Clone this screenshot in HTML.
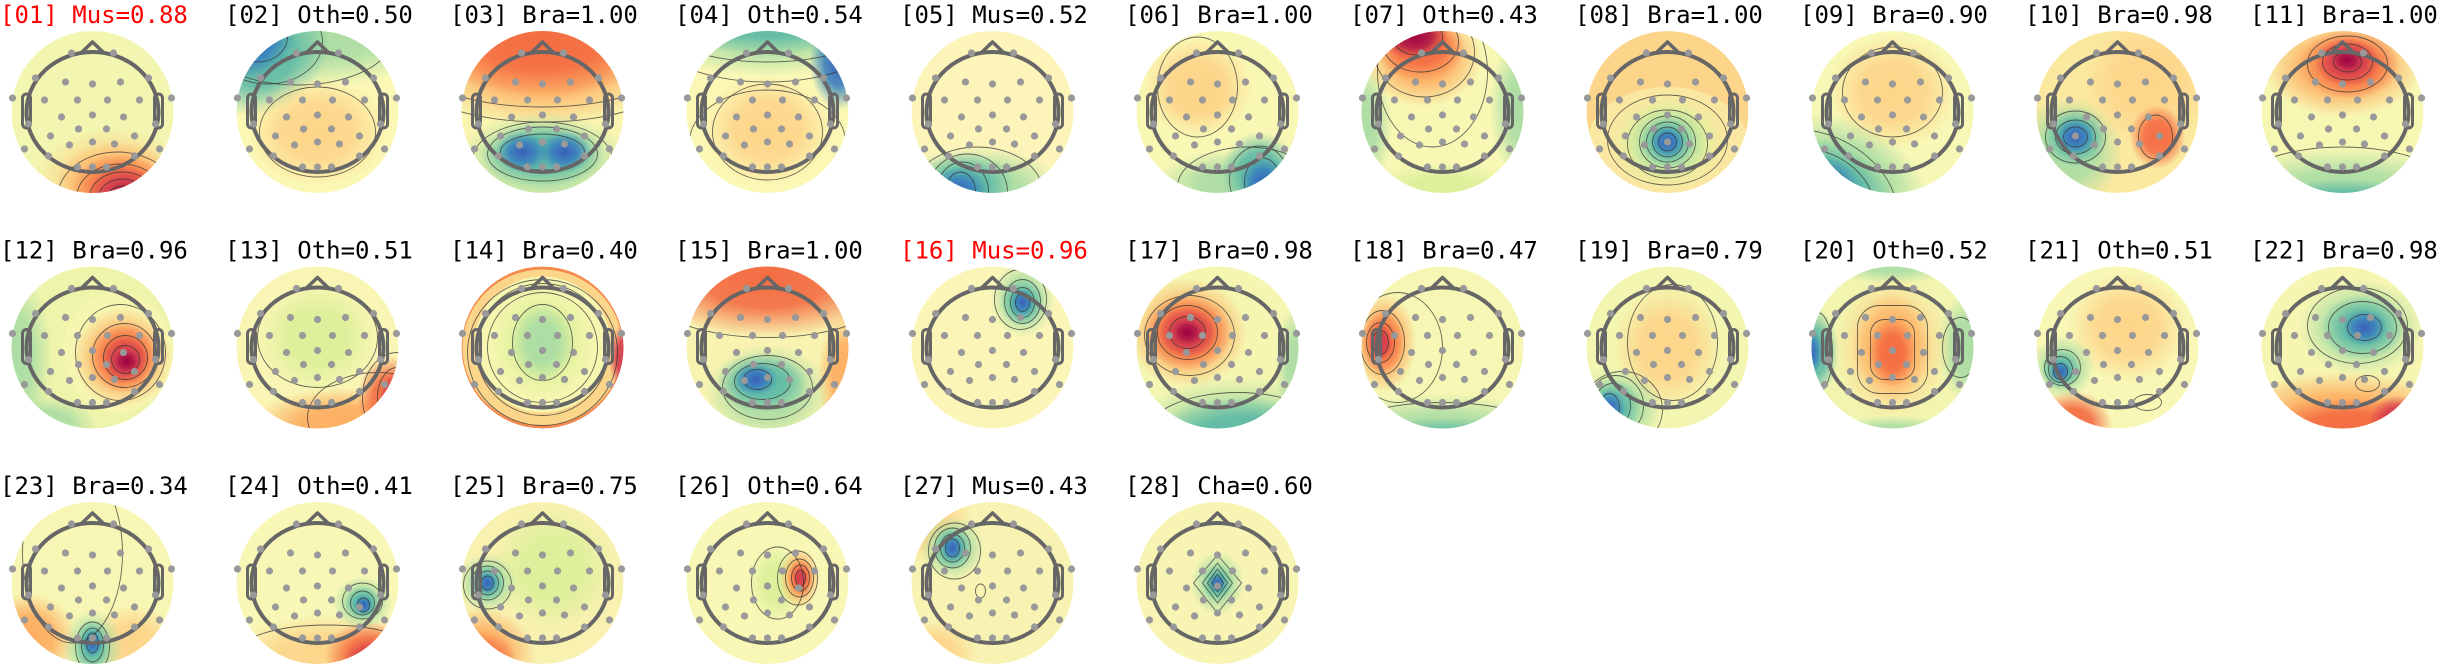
<!DOCTYPE html>
<html><head><meta charset="utf-8"><style>
html,body{margin:0;padding:0;background:#fff;width:2438px;height:667px;overflow:hidden;}
svg{display:block;position:absolute;left:0;top:0;}
text{font-family:"DejaVu Sans Mono","Liberation Mono",monospace;font-size:24px;fill:#000;}
.rd{fill:#ff0000;}
.k{fill:none;stroke:#333;stroke-width:0.9;opacity:0.75;}
</style></head><body>
<svg width="2438" height="667" viewBox="0 0 2438 667" xmlns="http://www.w3.org/2000/svg">
<defs>
<clipPath id="c"><circle r="81"/></clipPath>
<radialGradient id="R9"><stop offset="0" stop-color="#9e0142"/><stop offset="0.5" stop-color="#b01a48" stop-opacity="0.9"/><stop offset="1" stop-color="#d53e4f" stop-opacity="0"/></radialGradient>
<radialGradient id="R"><stop offset="0" stop-color="#d53e4f"/><stop offset="0.5" stop-color="#d53e4f" stop-opacity="0.9"/><stop offset="1" stop-color="#d53e4f" stop-opacity="0"/></radialGradient>
<radialGradient id="O"><stop offset="0" stop-color="#f46d43"/><stop offset="0.5" stop-color="#f46d43" stop-opacity="0.9"/><stop offset="1" stop-color="#f46d43" stop-opacity="0"/></radialGradient>
<radialGradient id="L"><stop offset="0" stop-color="#fdae61"/><stop offset="0.5" stop-color="#fdae61" stop-opacity="0.9"/><stop offset="1" stop-color="#fdae61" stop-opacity="0"/></radialGradient>
<radialGradient id="Y"><stop offset="0" stop-color="#fdd58a"/><stop offset="0.5" stop-color="#fdd58a" stop-opacity="0.9"/><stop offset="1" stop-color="#fdd58a" stop-opacity="0"/></radialGradient>
<radialGradient id="G"><stop offset="0" stop-color="#dcf09a"/><stop offset="0.5" stop-color="#dcf09a" stop-opacity="0.9"/><stop offset="1" stop-color="#dcf09a" stop-opacity="0"/></radialGradient>
<radialGradient id="LG"><stop offset="0" stop-color="#abdda4"/><stop offset="0.5" stop-color="#abdda4" stop-opacity="0.9"/><stop offset="1" stop-color="#abdda4" stop-opacity="0"/></radialGradient>
<radialGradient id="T"><stop offset="0" stop-color="#5fbaa6"/><stop offset="0.5" stop-color="#5fbaa6" stop-opacity="0.9"/><stop offset="1" stop-color="#5fbaa6" stop-opacity="0"/></radialGradient>
<radialGradient id="B"><stop offset="0" stop-color="#3a5fb8"/><stop offset="0.5" stop-color="#3a7fbf" stop-opacity="0.9"/><stop offset="1" stop-color="#3288bd" stop-opacity="0"/></radialGradient>
<g id="h">
<ellipse rx="66" ry="60" fill="none" stroke="#666" stroke-width="4"/>
<polyline points="-12,-58.5 0,-70 12,-58.5" fill="none" stroke="#666" stroke-width="3.5" stroke-linejoin="round"/>
<rect x="-70" y="-18" width="8" height="34" rx="4" fill="none" stroke="#666" stroke-width="3"/>
<rect x="62" y="-18" width="8" height="34" rx="4" fill="none" stroke="#666" stroke-width="3"/>
<g fill="#999">
<circle cx="-21" cy="-59" r="3.6"/><circle cx="21" cy="-59" r="3.6"/>
<circle cx="-57" cy="-34" r="3.6"/><circle cx="-27" cy="-30" r="3.6"/><circle cx="0" cy="-28" r="3.6"/><circle cx="28" cy="-30" r="3.6"/><circle cx="56" cy="-34" r="3.6"/>
<circle cx="-80" cy="-14" r="3.6"/><circle cx="-48" cy="-12" r="3.6"/><circle cx="-15" cy="-12" r="3.6"/><circle cx="15" cy="-12" r="3.6"/><circle cx="47" cy="-12" r="3.6"/><circle cx="79" cy="-14" r="3.6"/>
<circle cx="-31" cy="5" r="3.6"/><circle cx="0" cy="3" r="3.6"/><circle cx="31" cy="5" r="3.6"/>
<circle cx="-64" cy="12" r="3.6"/><circle cx="63" cy="12" r="3.6"/>
<circle cx="-14" cy="17" r="3.6"/><circle cx="14" cy="17" r="3.6"/>
<circle cx="-42" cy="24" r="3.6"/><circle cx="-23" cy="33" r="3.6"/><circle cx="0" cy="30" r="3.6"/><circle cx="22" cy="32" r="3.6"/><circle cx="42" cy="24" r="3.6"/>
<circle cx="-68" cy="37" r="3.6"/><circle cx="67" cy="37" r="3.6"/>
<circle cx="-44" cy="44" r="3.6"/><circle cx="42" cy="44" r="3.6"/>
<circle cx="-15" cy="55" r="3.6"/><circle cx="0" cy="55" r="3.6"/><circle cx="14" cy="55" r="3.6"/>
</g>
</g>
</defs>

<text x="0" y="23" class="rd">[01] Mus=0.88</text>
<text x="225" y="23">[02] Oth=0.50</text>
<text x="450" y="23">[03] Bra=1.00</text>
<text x="675" y="23">[04] Oth=0.54</text>
<text x="900" y="23">[05] Mus=0.52</text>
<text x="1125" y="23">[06] Bra=1.00</text>
<text x="1350" y="23">[07] Oth=0.43</text>
<text x="1575" y="23">[08] Bra=1.00</text>
<text x="1800" y="23">[09] Bra=0.90</text>
<text x="2025" y="23">[10] Bra=0.98</text>
<text x="2250" y="23">[11] Bra=1.00</text>
<text x="0" y="258.5">[12] Bra=0.96</text>
<text x="225" y="258.5">[13] Oth=0.51</text>
<text x="450" y="258.5">[14] Bra=0.40</text>
<text x="675" y="258.5">[15] Bra=1.00</text>
<text x="900" y="258.5" class="rd">[16] Mus=0.96</text>
<text x="1125" y="258.5">[17] Bra=0.98</text>
<text x="1350" y="258.5">[18] Bra=0.47</text>
<text x="1575" y="258.5">[19] Bra=0.79</text>
<text x="1800" y="258.5">[20] Oth=0.52</text>
<text x="2025" y="258.5">[21] Oth=0.51</text>
<text x="2250" y="258.5">[22] Bra=0.98</text>
<text x="0" y="494">[23] Bra=0.34</text>
<text x="225" y="494">[24] Oth=0.41</text>
<text x="450" y="494">[25] Bra=0.75</text>
<text x="675" y="494">[26] Oth=0.64</text>
<text x="900" y="494">[27] Mus=0.43</text>
<text x="1125" y="494">[28] Cha=0.60</text>

<!-- 01 -->
<g transform="translate(92.5,112)"><g clip-path="url(#c)"><circle r="81" fill="#f2f6b0"/>
<ellipse cx="20" cy="70" rx="80" ry="55" fill="url(#Y)"/><ellipse cx="25" cy="74" rx="62" ry="45" fill="url(#L)"/><ellipse cx="28" cy="78" rx="48" ry="36" fill="url(#O)"/><ellipse cx="32" cy="82" rx="36" ry="28" fill="url(#R)"/><ellipse cx="36" cy="86" rx="26" ry="20" fill="url(#R9)"/>
<ellipse class="k" cx="30" cy="86" rx="15" ry="12"/><ellipse class="k" cx="30" cy="86" rx="24" ry="19"/><ellipse class="k" cx="30" cy="86" rx="33" ry="26"/><ellipse class="k" cx="28" cy="86" rx="44" ry="34"/><ellipse class="k" cx="25" cy="86" rx="60" ry="46"/>
</g><use href="#h"/></g>
<!-- 02 -->
<g transform="translate(317.5,112)"><g clip-path="url(#c)"><circle r="81" fill="#fbf8b6"/>
<ellipse cx="0" cy="-80" rx="130" ry="55" fill="url(#LG)"/><ellipse cx="-55" cy="-55" rx="70" ry="55" fill="url(#T)" transform="rotate(-30 -55 -55)"/><ellipse cx="-65" cy="-70" rx="45" ry="35" fill="url(#B)" transform="rotate(-30 -65 -70)"/><ellipse cx="0" cy="20" rx="70" ry="55" fill="url(#Y)"/>
<ellipse class="k" cx="-60" cy="-75" rx="30" ry="25"/><ellipse class="k" cx="-50" cy="-70" rx="55" ry="42"/><ellipse class="k" cx="-20" cy="-75" rx="95" ry="48"/><ellipse class="k" cx="0" cy="20" rx="58" ry="45"/>
</g><use href="#h"/></g>
<!-- 03 -->
<g transform="translate(542.5,112)"><g clip-path="url(#c)"><circle r="81" fill="#f9f5b0"/>
<ellipse cx="0" cy="-55" rx="130" ry="70" fill="url(#L)"/><ellipse cx="0" cy="-70" rx="120" ry="55" fill="url(#O)"/><ellipse cx="0" cy="48" rx="85" ry="48" fill="url(#LG)"/><ellipse cx="0" cy="42" rx="62" ry="32" fill="url(#T)"/><ellipse cx="-20" cy="40" rx="26" ry="20" fill="url(#B)"/><ellipse cx="22" cy="40" rx="26" ry="20" fill="url(#B)"/>
<ellipse class="k" cx="0" cy="40" rx="42" ry="18"/><ellipse class="k" cx="0" cy="42" rx="55" ry="27"/><ellipse class="k" cx="0" cy="48" rx="70" ry="38"/><ellipse class="k" cx="0" cy="-60" rx="140" ry="55"/><ellipse class="k" cx="0" cy="-45" rx="140" ry="55"/>
</g><use href="#h"/></g>
<!-- 04 -->
<g transform="translate(767.5,112)"><g clip-path="url(#c)"><circle r="81" fill="#fbf8b6"/>
<ellipse cx="0" cy="-85" rx="130" ry="50" fill="url(#LG)"/><ellipse cx="0" cy="-92" rx="110" ry="34" fill="url(#T)"/><ellipse cx="72" cy="-50" rx="30" ry="48" fill="url(#B)"/><ellipse cx="0" cy="18" rx="65" ry="55" fill="url(#Y)"/>
<ellipse class="k" cx="0" cy="-90" rx="110" ry="40"/><ellipse class="k" cx="0" cy="-85" rx="120" ry="55"/><ellipse class="k" cx="0" cy="20" rx="55" ry="48"/><ellipse class="k" cx="0" cy="30" rx="78" ry="52"/>
</g><use href="#h"/></g>
<!-- 05 -->
<g transform="translate(992.5,112)"><g clip-path="url(#c)"><circle r="81" fill="#fcf4b8"/>
<ellipse cx="-15" cy="75" rx="85" ry="40" fill="url(#LG)"/><ellipse cx="-28" cy="74" rx="50" ry="34" fill="url(#T)"/><ellipse cx="-34" cy="80" rx="30" ry="25" fill="url(#B)"/>
<ellipse class="k" cx="-32" cy="80" rx="15" ry="20"/><ellipse class="k" cx="-30" cy="80" rx="26" ry="30"/><ellipse class="k" cx="-25" cy="80" rx="40" ry="38"/><ellipse class="k" cx="-15" cy="80" rx="65" ry="45"/>
</g><use href="#h"/></g>
<!-- 06 -->
<g transform="translate(1217.5,112)"><g clip-path="url(#c)"><circle r="81" fill="#f9f7b4"/>
<ellipse cx="-20" cy="-25" rx="55" ry="50" fill="url(#Y)"/><ellipse cx="-20" cy="-20" rx="38" ry="34" fill="url(#Y)"/><ellipse cx="25" cy="72" rx="90" ry="35" fill="url(#LG)"/><ellipse cx="42" cy="60" rx="38" ry="40" fill="url(#T)"/><ellipse cx="46" cy="72" rx="24" ry="28" fill="url(#B)"/>
<ellipse class="k" cx="-20" cy="-25" rx="40" ry="50"/><ellipse class="k" cx="45" cy="70" rx="18" ry="24"/><ellipse class="k" cx="42" cy="68" rx="30" ry="34"/><ellipse class="k" cx="30" cy="75" rx="70" ry="40"/>
</g><use href="#h"/></g>
<!-- 07 -->
<g transform="translate(1442.5,112)"><g clip-path="url(#c)"><circle r="81" fill="#f8f7b4"/>
<ellipse cx="82" cy="-5" rx="35" ry="75" fill="url(#LG)"/><ellipse cx="-82" cy="15" rx="32" ry="65" fill="url(#LG)"/><ellipse cx="0" cy="80" rx="85" ry="30" fill="url(#G)"/>
<ellipse cx="-20" cy="-55" rx="60" ry="50" fill="url(#L)"/><ellipse cx="-22" cy="-65" rx="45" ry="34" fill="url(#O)"/><ellipse cx="-28" cy="-76" rx="34" ry="24" fill="url(#R9)"/>
<ellipse class="k" cx="-25" cy="-75" rx="25" ry="18"/><ellipse class="k" cx="-22" cy="-70" rx="38" ry="30"/><ellipse class="k" cx="-18" cy="-60" rx="50" ry="45"/><ellipse class="k" cx="-10" cy="-40" rx="55" ry="75"/>
</g><use href="#h"/></g>
<!-- 08 -->
<g transform="translate(1667.5,112)"><g clip-path="url(#c)"><circle r="81" fill="#fcd58a"/>
<ellipse cx="0" cy="30" rx="80" ry="55" fill="#f9f5b2" opacity="0.6"/><ellipse cx="0" cy="30" rx="58" ry="48" fill="url(#G)"/><ellipse cx="0" cy="30" rx="42" ry="37" fill="url(#LG)"/><ellipse cx="0" cy="30" rx="28" ry="26" fill="url(#T)"/><ellipse cx="0" cy="30" rx="17" ry="16" fill="url(#B)"/>
<ellipse class="k" cx="0" cy="30" rx="9" ry="9"/><ellipse class="k" cx="0" cy="30" rx="15" ry="15"/><ellipse class="k" cx="0" cy="30" rx="21" ry="20"/><ellipse class="k" cx="0" cy="30" rx="28" ry="26"/><ellipse class="k" cx="0" cy="32" rx="40" ry="34"/><ellipse class="k" cx="0" cy="28" rx="60" ry="45"/>
</g><use href="#h"/></g>
<!-- 09 -->
<g transform="translate(1892.5,112)"><g clip-path="url(#c)"><circle r="81" fill="#f8f8b6"/>
<ellipse cx="0" cy="-20" rx="65" ry="58" fill="url(#Y)"/><ellipse cx="-40" cy="60" rx="85" ry="48" fill="url(#LG)" transform="rotate(30 -40 60)"/><ellipse cx="-55" cy="70" rx="60" ry="36" fill="url(#T)" transform="rotate(30 -55 70)"/><ellipse cx="-65" cy="75" rx="38" ry="30" fill="url(#B)" transform="rotate(30 -65 75)"/>
<ellipse class="k" cx="-70" cy="80" rx="35" ry="25" transform="rotate(30 -70 80)"/><ellipse class="k" cx="-70" cy="80" rx="55" ry="38" transform="rotate(30 -70 80)"/><ellipse class="k" cx="-70" cy="80" rx="80" ry="55" transform="rotate(30 -70 80)"/><ellipse class="k" cx="0" cy="-20" rx="50" ry="45"/>
</g><use href="#h"/></g>
<!-- 10 -->
<g transform="translate(2117.5,112)"><g clip-path="url(#c)"><circle r="81" fill="#fbe9a0"/>
<ellipse cx="30" cy="-30" rx="65" ry="65" fill="url(#Y)"/><ellipse cx="-50" cy="40" rx="55" ry="55" fill="url(#LG)"/><ellipse cx="-42" cy="25" rx="33" ry="30" fill="url(#T)"/><ellipse cx="-42" cy="25" rx="20" ry="19" fill="url(#B)"/><ellipse cx="40" cy="25" rx="28" ry="32" fill="url(#O)"/>
<ellipse class="k" cx="-42" cy="25" rx="12" ry="10"/><ellipse class="k" cx="-42" cy="25" rx="20" ry="17"/><ellipse class="k" cx="-42" cy="25" rx="30" ry="26"/><ellipse class="k" cx="38" cy="25" rx="17" ry="22"/>
</g><use href="#h"/></g>
<!-- 11 -->
<g transform="translate(2342.5,112)"><g clip-path="url(#c)"><circle r="81" fill="#f7f7b4"/>
<ellipse cx="0" cy="85" rx="130" ry="50" fill="url(#LG)"/><ellipse cx="0" cy="92" rx="90" ry="25" fill="url(#T)"/><ellipse cx="0" cy="-45" rx="80" ry="50" fill="url(#L)"/><ellipse cx="8" cy="-48" rx="50" ry="35" fill="url(#O)"/><ellipse cx="5" cy="-50" rx="32" ry="24" fill="url(#R)"/><ellipse cx="5" cy="-52" rx="18" ry="14" fill="url(#R9)"/>
<ellipse class="k" cx="5" cy="-50" rx="14" ry="10"/><ellipse class="k" cx="5" cy="-50" rx="25" ry="18"/><ellipse class="k" cx="5" cy="-48" rx="40" ry="28"/><ellipse class="k" cx="0" cy="80" rx="110" ry="45"/>
</g><use href="#h"/></g>

<!-- 12 -->
<g transform="translate(92.5,347.5)"><g clip-path="url(#c)"><circle r="81" fill="#eef4aa"/>
<ellipse cx="-80" cy="10" rx="40" ry="85" fill="url(#LG)"/><ellipse cx="-50" cy="78" rx="55" ry="30" fill="url(#LG)"/><ellipse cx="25" cy="5" rx="55" ry="60" fill="#fbf6b4" opacity="0.7"/><ellipse cx="30" cy="10" rx="50" ry="50" fill="url(#L)"/><ellipse cx="32" cy="10" rx="36" ry="36" fill="url(#O)"/><ellipse cx="33" cy="12" rx="24" ry="24" fill="url(#R)"/><ellipse cx="34" cy="14" rx="15" ry="14" fill="url(#R9)"/>
<ellipse class="k" cx="33" cy="12" rx="14" ry="14"/><ellipse class="k" cx="33" cy="10" rx="22" ry="22"/><ellipse class="k" cx="32" cy="8" rx="32" ry="32"/><ellipse class="k" cx="28" cy="5" rx="45" ry="48"/>
</g><use href="#h"/></g>
<!-- 13 -->
<g transform="translate(317.5,347.5)"><g clip-path="url(#c)"><circle r="81" fill="#f9f5b4"/>
<ellipse cx="0" cy="-10" rx="60" ry="55" fill="url(#G)"/><ellipse cx="30" cy="78" rx="100" ry="38" fill="url(#L)"/><ellipse cx="72" cy="50" rx="32" ry="42" fill="url(#O)"/><ellipse cx="80" cy="50" rx="18" ry="26" fill="url(#R9)"/>
<ellipse class="k" cx="0" cy="-10" rx="60" ry="50"/><ellipse class="k" cx="80" cy="50" rx="20" ry="30"/><ellipse class="k" cx="80" cy="50" rx="35" ry="45"/><ellipse class="k" cx="60" cy="70" rx="70" ry="45"/>
</g><use href="#h"/></g>
<!-- 14 -->
<g transform="translate(542.5,347.5)"><g clip-path="url(#c)"><circle r="81" fill="#f48a4e"/>
<ellipse cx="0" cy="0" rx="80" ry="78" fill="#fbd58a"/><ellipse cx="0" cy="-3" rx="68" ry="68" fill="#f6f6b0"/><ellipse cx="0" cy="-5" rx="52" ry="57" fill="url(#G)"/><ellipse cx="0" cy="-5" rx="32" ry="40" fill="url(#LG)"/><ellipse cx="82" cy="10" rx="16" ry="34" fill="url(#R)"/>
<ellipse class="k" cx="0" cy="-5" rx="30" ry="38"/><ellipse class="k" cx="0" cy="0" rx="55" ry="55"/><ellipse class="k" cx="0" cy="2" rx="66" ry="66"/><ellipse class="k" cx="0" cy="5" rx="75" ry="73"/>
</g><use href="#h"/></g>
<!-- 15 -->
<g transform="translate(767.5,347.5)"><g clip-path="url(#c)"><circle r="81" fill="#f8f3b0"/>
<ellipse cx="0" cy="-70" rx="130" ry="60" fill="url(#O)"/><ellipse cx="80" cy="30" rx="30" ry="65" fill="url(#L)"/><ellipse cx="0" cy="45" rx="62" ry="48" fill="url(#LG)"/><ellipse cx="-5" cy="35" rx="45" ry="30" fill="url(#T)"/><ellipse cx="-12" cy="32" rx="22" ry="16" fill="url(#B)"/>
<ellipse class="k" cx="-10" cy="32" rx="14" ry="10"/><ellipse class="k" cx="-5" cy="34" rx="28" ry="18"/><ellipse class="k" cx="0" cy="40" rx="45" ry="32"/><ellipse class="k" cx="0" cy="-65" rx="130" ry="55"/>
</g><use href="#h"/></g>
<!-- 16 -->
<g transform="translate(992.5,347.5)"><g clip-path="url(#c)"><circle r="81" fill="#fbf6b8"/>
<ellipse cx="30" cy="-48" rx="32" ry="38" fill="url(#LG)"/><ellipse cx="30" cy="-45" rx="22" ry="24" fill="url(#T)"/><ellipse cx="30" cy="-45" rx="12" ry="14" fill="url(#B)"/>
<ellipse class="k" cx="30" cy="-45" rx="7" ry="9"/><ellipse class="k" cx="30" cy="-45" rx="12" ry="15"/><ellipse class="k" cx="30" cy="-46" rx="18" ry="22"/><ellipse class="k" cx="28" cy="-48" rx="26" ry="30"/>
</g><use href="#h"/></g>
<!-- 17 -->
<g transform="translate(1217.5,347.5)"><g clip-path="url(#c)"><circle r="81" fill="#f5f6b2"/>
<ellipse cx="20" cy="85" rx="110" ry="55" fill="url(#LG)"/><ellipse cx="25" cy="88" rx="90" ry="38" fill="url(#T)"/><ellipse cx="55" cy="85" rx="30" ry="20" fill="url(#B)"/><ellipse cx="82" cy="20" rx="25" ry="65" fill="url(#LG)"/>
<ellipse cx="-30" cy="-15" rx="60" ry="55" fill="url(#L)"/><ellipse cx="-30" cy="-15" rx="44" ry="38" fill="url(#O)"/><ellipse cx="-30" cy="-15" rx="30" ry="26" fill="url(#R)"/><ellipse cx="-30" cy="-15" rx="18" ry="15" fill="url(#R9)"/>
<ellipse class="k" cx="-30" cy="-15" rx="18" ry="16"/><ellipse class="k" cx="-30" cy="-15" rx="30" ry="27"/><ellipse class="k" cx="-28" cy="-12" rx="45" ry="40"/><ellipse class="k" cx="20" cy="85" rx="90" ry="40"/>
</g><use href="#h"/></g>
<!-- 18 -->
<g transform="translate(1442.5,347.5)"><g clip-path="url(#c)"><circle r="81" fill="#f6f7b4"/>
<ellipse cx="0" cy="88" rx="120" ry="42" fill="url(#LG)"/><ellipse cx="0" cy="95" rx="90" ry="25" fill="url(#T)"/><ellipse cx="-58" cy="-5" rx="32" ry="50" fill="url(#L)"/><ellipse cx="-60" cy="-5" rx="22" ry="32" fill="url(#O)"/><ellipse cx="-62" cy="-5" rx="12" ry="18" fill="url(#R)"/>
<ellipse class="k" cx="-62" cy="-5" rx="8" ry="12"/><ellipse class="k" cx="-62" cy="-5" rx="14" ry="20"/><ellipse class="k" cx="-60" cy="-5" rx="22" ry="32"/><ellipse class="k" cx="-45" cy="0" rx="45" ry="55"/><ellipse class="k" cx="0" cy="85" rx="100" ry="30"/>
</g><use href="#h"/></g>
<!-- 19 -->
<g transform="translate(1667.5,347.5)"><g clip-path="url(#c)"><circle r="81" fill="#f3f6b0"/>
<ellipse cx="0" cy="0" rx="55" ry="62" fill="url(#Y)"/><ellipse cx="-50" cy="60" rx="45" ry="40" fill="url(#LG)"/><ellipse cx="-55" cy="60" rx="28" ry="28" fill="url(#T)"/><ellipse cx="-58" cy="62" rx="16" ry="20" fill="url(#B)"/>
<ellipse class="k" cx="-58" cy="60" rx="10" ry="14"/><ellipse class="k" cx="-55" cy="58" rx="18" ry="22"/><ellipse class="k" cx="-52" cy="58" rx="28" ry="30"/><ellipse class="k" cx="-45" cy="62" rx="40" ry="38"/><ellipse class="k" cx="5" cy="-5" rx="45" ry="58"/>
</g><use href="#h"/></g>
<!-- 20 -->
<g transform="translate(1892.5,347.5)"><g clip-path="url(#c)"><circle r="81" fill="#f2f5b0"/>
<ellipse cx="0" cy="-88" rx="70" ry="25" fill="url(#LG)"/><ellipse cx="75" cy="0" rx="30" ry="55" fill="url(#LG)"/><ellipse cx="0" cy="88" rx="70" ry="20" fill="url(#LG)"/><ellipse cx="-78" cy="5" rx="24" ry="45" fill="url(#T)"/><ellipse cx="-82" cy="5" rx="12" ry="24" fill="url(#B)"/>
<ellipse cx="0" cy="0" rx="58" ry="72" fill="url(#Y)"/><ellipse cx="0" cy="0" rx="40" ry="55" fill="url(#L)"/><ellipse cx="0" cy="5" rx="24" ry="35" fill="url(#O)"/>
<rect x="-22" y="-28" width="44" height="60" rx="14" class="k"/><rect x="-35" y="-42" width="70" height="88" rx="22" class="k"/><ellipse class="k" cx="68" cy="0" rx="18" ry="30"/><ellipse class="k" cx="-75" cy="5" rx="15" ry="40"/>
</g><use href="#h"/></g>
<!-- 21 -->
<g transform="translate(2117.5,347.5)"><g clip-path="url(#c)"><circle r="81" fill="#f8f7b6"/>
<ellipse cx="10" cy="-20" rx="60" ry="55" fill="url(#Y)"/><ellipse cx="-45" cy="78" rx="40" ry="35" fill="url(#O)"/><ellipse cx="-55" cy="20" rx="32" ry="32" fill="url(#LG)"/><ellipse cx="-56" cy="22" rx="20" ry="20" fill="url(#T)"/><ellipse cx="-57" cy="24" rx="11" ry="11" fill="url(#B)"/>
<ellipse class="k" cx="-57" cy="24" rx="7" ry="8"/><ellipse class="k" cx="-57" cy="22" rx="12" ry="13"/><ellipse class="k" cx="-55" cy="20" rx="18" ry="18"/><ellipse class="k" cx="30" cy="55" rx="14" ry="8"/>
</g><use href="#h"/></g>
<!-- 22 -->
<g transform="translate(2342.5,347.5)"><g clip-path="url(#c)"><circle r="81" fill="#f6f5b2"/>
<ellipse cx="0" cy="72" rx="120" ry="48" fill="url(#L)"/><ellipse cx="10" cy="80" rx="90" ry="30" fill="url(#O)"/><ellipse cx="55" cy="72" rx="28" ry="24" fill="url(#R)"/><ellipse cx="18" cy="-20" rx="62" ry="48" fill="url(#LG)"/><ellipse cx="20" cy="-20" rx="42" ry="32" fill="url(#T)"/><ellipse cx="22" cy="-20" rx="22" ry="18" fill="url(#B)"/>
<ellipse class="k" cx="22" cy="-20" rx="17" ry="13"/><ellipse class="k" cx="20" cy="-20" rx="34" ry="26"/><ellipse class="k" cx="15" cy="-22" rx="50" ry="38"/><ellipse class="k" cx="25" cy="36" rx="12" ry="8"/>
</g><use href="#h"/></g>

<!-- 23 -->
<g transform="translate(92.5,583)"><g clip-path="url(#c)"><circle r="81" fill="#f8f6b4"/>
<ellipse cx="-65" cy="55" rx="50" ry="45" fill="url(#L)"/><ellipse cx="40" cy="60" rx="45" ry="38" fill="url(#Y)"/><ellipse cx="0" cy="65" rx="30" ry="38" fill="url(#LG)"/><ellipse cx="0" cy="62" rx="18" ry="26" fill="url(#T)"/><ellipse cx="0" cy="60" rx="10" ry="14" fill="url(#B)"/>
<ellipse class="k" cx="0" cy="60" rx="6" ry="10"/><ellipse class="k" cx="0" cy="62" rx="11" ry="17"/><ellipse class="k" cx="0" cy="64" rx="17" ry="25"/><ellipse class="k" cx="-20" cy="-30" rx="50" ry="90"/>
</g><use href="#h"/></g>
<!-- 24 -->
<g transform="translate(317.5,583)"><g clip-path="url(#c)"><circle r="81" fill="#f8f7b6"/>
<ellipse cx="10" cy="72" rx="100" ry="40" fill="url(#Y)"/><ellipse cx="52" cy="72" rx="45" ry="34" fill="url(#O)"/><ellipse cx="55" cy="76" rx="28" ry="20" fill="url(#R)"/><ellipse cx="45" cy="20" rx="30" ry="27" fill="url(#LG)"/><ellipse cx="45" cy="20" rx="18" ry="17" fill="url(#T)"/><ellipse cx="46" cy="22" rx="10" ry="10" fill="url(#B)"/>
<ellipse class="k" cx="46" cy="22" rx="6" ry="7"/><ellipse class="k" cx="45" cy="20" rx="12" ry="12"/><ellipse class="k" cx="45" cy="18" rx="20" ry="18"/><ellipse class="k" cx="10" cy="70" rx="90" ry="28"/>
</g><use href="#h"/></g>
<!-- 25 -->
<g transform="translate(542.5,583)"><g clip-path="url(#c)"><circle r="81" fill="#f8f1b0"/>
<ellipse cx="10" cy="-15" rx="62" ry="62" fill="url(#G)"/><ellipse cx="-62" cy="72" rx="55" ry="48" fill="url(#L)"/><ellipse cx="-62" cy="78" rx="36" ry="30" fill="url(#O)"/><ellipse cx="-55" cy="0" rx="30" ry="30" fill="url(#LG)"/><ellipse cx="-55" cy="0" rx="18" ry="19" fill="url(#T)"/><ellipse cx="-55" cy="0" rx="10" ry="11" fill="url(#B)"/>
<ellipse class="k" cx="-55" cy="0" rx="6" ry="7"/><ellipse class="k" cx="-55" cy="0" rx="11" ry="12"/><ellipse class="k" cx="-55" cy="0" rx="16" ry="17"/><ellipse class="k" cx="-55" cy="2" rx="24" ry="24"/>
</g><use href="#h"/></g>
<!-- 26 -->
<g transform="translate(767.5,583)"><g clip-path="url(#c)"><circle r="81" fill="#f8f7b6"/>
<ellipse cx="10" cy="0" rx="30" ry="40" fill="url(#G)"/><ellipse cx="32" cy="-5" rx="20" ry="30" fill="url(#L)"/><ellipse cx="33" cy="-5" rx="13" ry="19" fill="url(#O)"/><ellipse cx="33" cy="-5" rx="7" ry="11" fill="url(#R)"/>
<ellipse class="k" cx="33" cy="-5" rx="5" ry="8"/><ellipse class="k" cx="33" cy="-5" rx="9" ry="13"/><ellipse class="k" cx="32" cy="-5" rx="14" ry="19"/><ellipse class="k" cx="30" cy="-5" rx="20" ry="27"/><ellipse class="k" cx="10" cy="0" rx="26" ry="36"/>
</g><use href="#h"/></g>
<!-- 27 -->
<g transform="translate(992.5,583)"><g clip-path="url(#c)"><circle r="81" fill="#f8f3b2"/>
<ellipse cx="-70" cy="-65" rx="50" ry="45" fill="url(#Y)"/><ellipse cx="-60" cy="72" rx="45" ry="35" fill="url(#Y)"/><ellipse cx="-40" cy="-35" rx="32" ry="32" fill="url(#LG)"/><ellipse cx="-40" cy="-35" rx="20" ry="22" fill="url(#T)"/><ellipse cx="-40" cy="-35" rx="11" ry="13" fill="url(#B)"/>
<ellipse class="k" cx="-40" cy="-35" rx="7" ry="9"/><ellipse class="k" cx="-40" cy="-35" rx="12" ry="14"/><ellipse class="k" cx="-40" cy="-35" rx="18" ry="20"/><ellipse class="k" cx="-38" cy="-32" rx="26" ry="28"/><ellipse class="k" cx="-12" cy="8" rx="5" ry="7"/>
</g><use href="#h"/></g>
<!-- 28 -->
<g transform="translate(1217.5,583)"><g clip-path="url(#c)"><circle r="81" fill="#f8f5b4"/>
<ellipse cx="0" cy="0" rx="27" ry="32" fill="url(#LG)"/><ellipse cx="0" cy="0" rx="15" ry="18" fill="url(#T)"/><ellipse cx="0" cy="0" rx="8" ry="10" fill="url(#B)"/>
<path class="k" d="M0,-9 L6,0 L0,9 L-6,0Z"/><path class="k" d="M0,-14 L10,0 L0,14 L-10,0Z"/><path class="k" d="M0,-20 L15,0 L0,20 L-15,0Z"/><path class="k" d="M0,-28 L24,0 L0,30 L-24,0Z"/>
</g><use href="#h"/></g>
</svg>
</body></html>
